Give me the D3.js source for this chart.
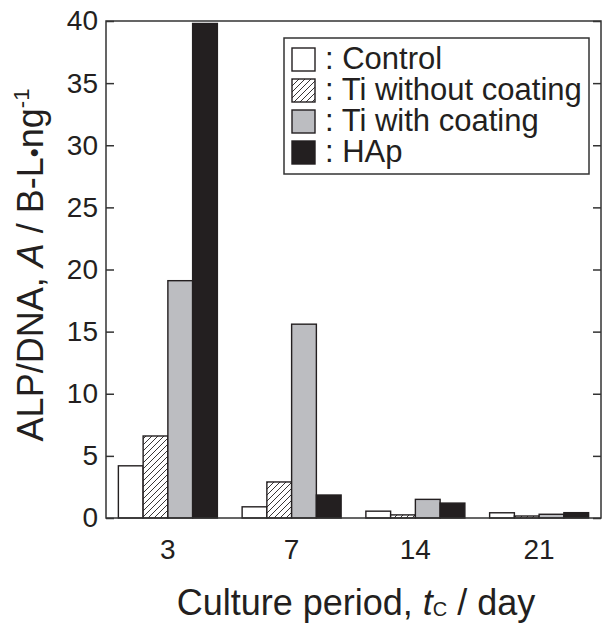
<!DOCTYPE html>
<html><head><meta charset="utf-8">
<script src="https://cdn.jsdelivr.net/npm/d3@7"></script>
<style>body{margin:0;background:#fff}svg{display:block}text{font-family:"Liberation Sans",Arial,Helvetica,sans-serif;fill:#231f20}</style>
</head><body><svg id="c" width="608" height="624"></svg>
<script>
const days = ["3","7","14","21"];
const seriesNames = ["Control","Ti without coating","Ti with coating","HAp"];
const control = [4.2, 0.9, 0.55, 0.42];
const tiWithout = [6.6, 2.9, 0.25, 0.16];
const tiWith = [19.1, 15.6, 1.5, 0.3];
const hap = [39.8, 1.85, 1.2, 0.43];
const yTicks = [0,5,10,15,20,25,30,35,40];

const seriesVals = [control, tiWithout, tiWith, hap];
const fills = ["#ffffff","url(#hatch)","#bcbdc1","#231f20"];
const ink = "#231f20";

const svg = d3.select("#c");
const L=106, R=601, T=21, B=518;
const x = d3.scaleBand().domain(days).range([L,R]).paddingInner(0.2).paddingOuter(0.1);
const xs = d3.scaleBand().domain(d3.range(4)).range([0,x.bandwidth()]);
const y = d3.scaleLinear().domain([0,40]).range([B,T]);

const defs = svg.append("defs");
const pat = defs.append("pattern").attr("id","hatch").attr("patternUnits","userSpaceOnUse")
  .attr("width",6).attr("height",6);
pat.append("rect").attr("width",6).attr("height",6).attr("fill","#fff");
pat.append("path").attr("d","M-1,1 l2,-2 M0,6 l6,-6 M5,7 l2,-2").attr("stroke",ink).attr("stroke-width",0.9);

// bars
days.forEach((d,i)=>{
  seriesVals.forEach((vals,s)=>{
    svg.append("rect")
      .attr("x", x(d)+xs(s)).attr("y", y(vals[i]))
      .attr("width", xs.bandwidth()).attr("height", B - y(vals[i]))
      .attr("fill", fills[s]).attr("stroke", ink).attr("stroke-width",1.4);
  });
});

// frame
svg.append("rect").attr("x",L).attr("y",T).attr("width",R-L).attr("height",B-T)
  .attr("fill","none").attr("stroke","#333").attr("stroke-width",1.5);

// y axis
const ya = svg.append("g").attr("transform",`translate(${L},0)`)
  .call(d3.axisLeft(y).tickValues(yTicks).tickSizeInner(-8).tickSizeOuter(0).tickPadding(8));
ya.select(".domain").remove();
ya.selectAll("line").attr("stroke","#333").attr("stroke-width",1.5);
ya.selectAll("text").style("font-size","28px").attr("fill",ink);

const yr = svg.append("g").attr("transform",`translate(${R},0)`)
  .call(d3.axisRight(y).tickValues(yTicks).tickSizeInner(-8).tickSizeOuter(0).tickFormat(""));
yr.select(".domain").remove();
yr.selectAll("line").attr("stroke","#333").attr("stroke-width",1.5);

// x axis
const xa = svg.append("g").attr("transform",`translate(0,${B})`)
  .call(d3.axisBottom(x).tickSize(0).tickPadding(21));
xa.select(".domain").remove();
xa.selectAll("text").style("font-size","28px").attr("fill",ink);

// axis titles
const xt = svg.append("text").attr("x",356).attr("y",615).attr("text-anchor","middle").style("font-size","36px");
xt.append("tspan").text("Culture period, ");
xt.append("tspan").style("font-style","italic").text("t");
xt.append("tspan").style("font-size","20px").attr("dy",1).text("C");
xt.append("tspan").attr("dy",-1).text(" / day");

const yt = svg.append("text").attr("transform","translate(43,265) rotate(-90)").attr("text-anchor","middle").style("font-size","36px");
yt.append("tspan").text("ALP/DNA, ");
yt.append("tspan").style("font-style","italic").text("A");
yt.append("tspan").text(" / B-L");
yt.append("tspan").style("font-size","26px").text("\u2022");
yt.append("tspan").text("ng");
yt.append("tspan").style("font-size","22px").attr("dy",-14).text("-1");

// legend
svg.append("rect").attr("x",284).attr("y",38).attr("width",305).attr("height",136)
  .attr("fill","#fff").attr("stroke","#333").attr("stroke-width",1.5);
seriesNames.forEach((n,s)=>{
  const yy = 48 + s*31;
  svg.append("rect").attr("x",292).attr("y",yy).attr("width",23).attr("height",23)
    .attr("fill",fills[s]).attr("stroke",ink).attr("stroke-width",1.4);
  svg.append("text").attr("x",325).attr("y",yy+21).style("font-size","31px").text(": "+n);
});
</script></body></html>
